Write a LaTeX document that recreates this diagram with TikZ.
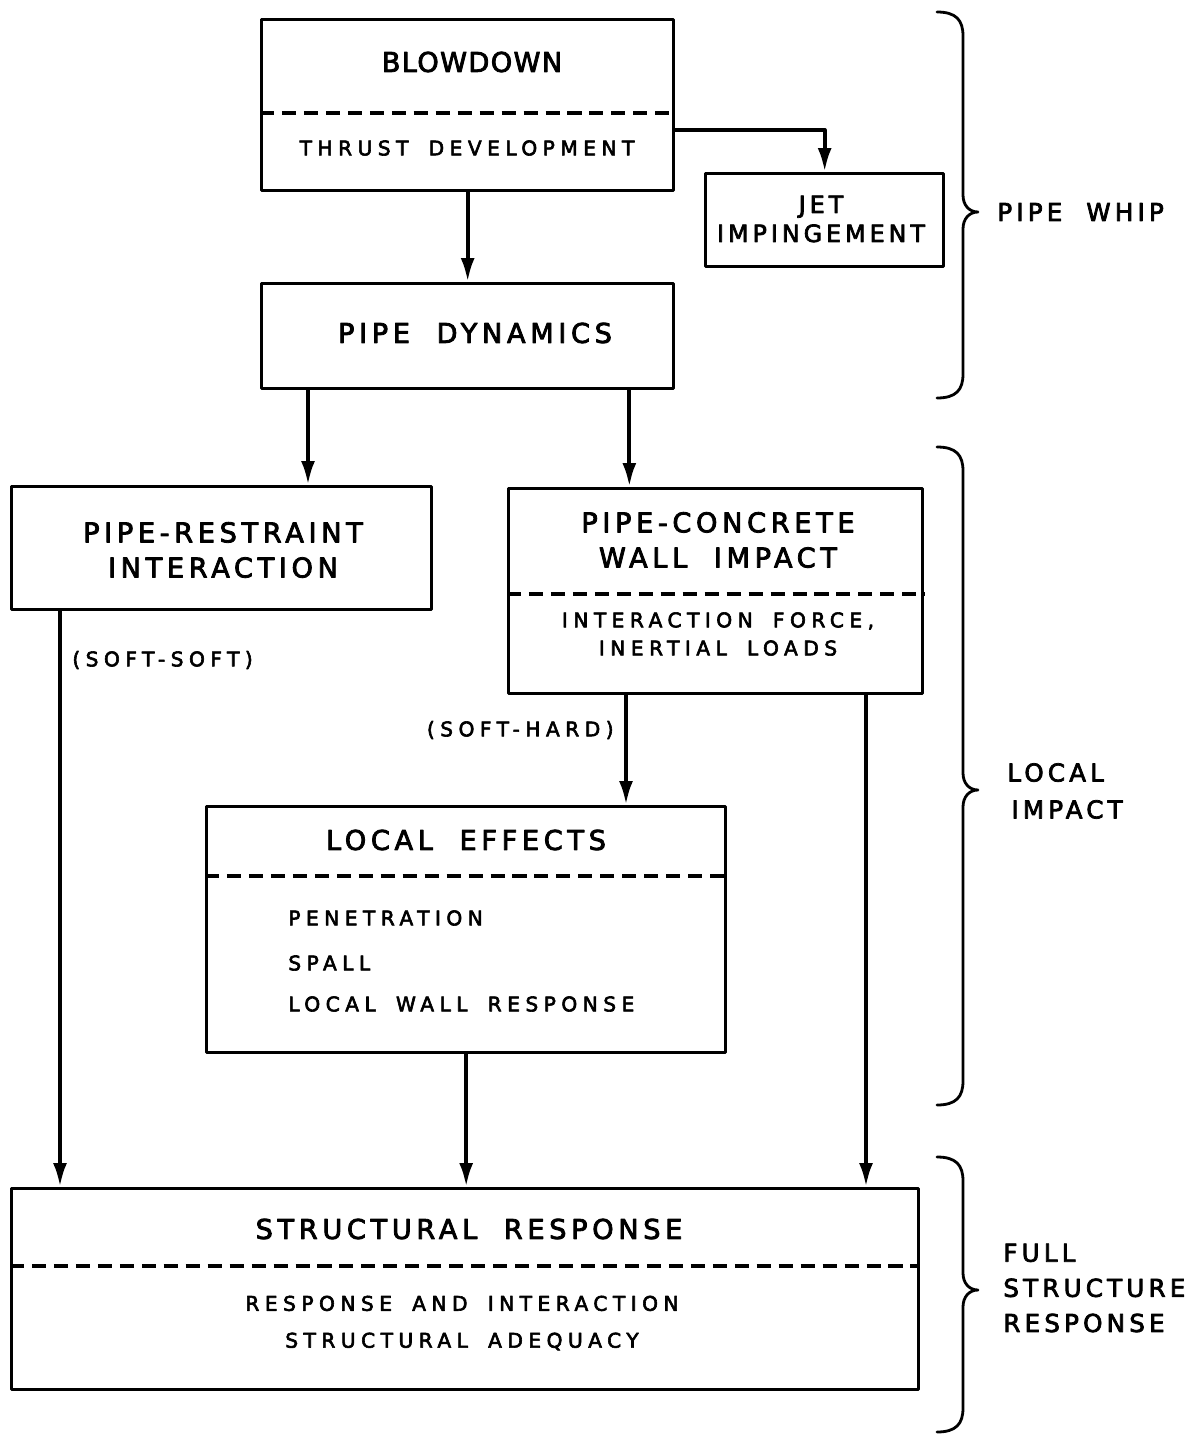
\documentclass[tikz,border=0pt]{standalone}
\usepackage{fontspec}
\usetikzlibrary{arrows.meta}
\newfontfamily\letterbig[LetterSpace=17,WordSpace=2,FakeBold=3]{DejaVu Sans}
\newfontfamily\lettersm[LetterSpace=27,WordSpace=1.7,FakeBold=3]{DejaVu Sans}

\begin{document}
\begin{tikzpicture}[x=0.02cm,y=-0.02cm,line cap=round,line join=round,
  box/.style={draw,line width=1.9pt,anchor=north west,inner sep=0pt},
  big/.style={font=\letterbig\fontsize{15.5}{20}\selectfont,align=center,inner sep=0pt},
  side/.style={font=\letterbig\fontsize{14}{20}\selectfont,anchor=west,align=left,inner sep=0pt},
  small/.style={font=\lettersm\fontsize{11.5}{16}\selectfont,align=center,inner sep=0pt},
  split/.style={line width=1.9pt,dash pattern=on 8pt off 4.5pt,line cap=butt},
  arr/.style={line width=2.3pt,line cap=butt,-{Latex[length=0.48cm,width=0.28cm]}},
  brace/.style={line width=1.6pt}]
  \def\u{0.02cm}
  \useasboundingbox (0,0) rectangle (1188,1437);
  \node[box,minimum width=412*\u,minimum height=171*\u] (blow) at (260,18) {};
  \node[box,minimum width=238*\u,minimum height=93*\u] (jet) at (704,172) {};
  \node[box,minimum width=412*\u,minimum height=105*\u] (dyn) at (260,282) {};
  \node[box,minimum width=420*\u,minimum height=123*\u] (restr) at (10,485) {};
  \node[box,minimum width=414*\u,minimum height=205*\u] (conc) at (507,487) {};
  \node[box,minimum width=519*\u,minimum height=246*\u] (loc) at (205,805) {};
  \node[box,minimum width=907*\u,minimum height=201*\u] (struct) at (10,1187) {};
  \draw[split] ([yshift=-95*\u]blow.north west) -- ([yshift=-95*\u]blow.north east);
  \draw[split] ([yshift=-107*\u]conc.north west) -- ([yshift=-107*\u]conc.north east);
  \draw[split] ([yshift=-71*\u]loc.north west) -- ([yshift=-71*\u]loc.north east);
  \draw[split] ([yshift=-79*\u]struct.north west) -- ([yshift=-79*\u]struct.north east);
  \node[big] (t-blow) at (472,62) {\addfontfeature{LetterSpace=5}BLOWDOWN};
  \node[small] (t-thrust) at (467,148) {THRUST DEVELOPMENT};
  \node[big,font=\letterbig\fontsize{13.5}{16.5}\selectfont] (t-jet) at (821,219) {JET\\IMPINGEMENT};
  \node[big] (t-dyn) at (475,333) {PIPE DYNAMICS};
  \node[big] (t-restr) at (223,550) {PIPE-RESTRAINT\\INTERACTION};
  \node[big] (t-conc) at (718,540) {PIPE-CONCRETE\\WALL IMPACT};
  \node[small] (t-force) at (718,634) {INTERACTION FORCE,\\INERTIAL LOADS};
  \node[small,anchor=west] (t-ss) at (72,660) {(SOFT-SOFT)};
  \node[small,anchor=east] (t-sh) at (614,730) {(SOFT-HARD)};
  \node[big] (t-loc) at (466,840) {LOCAL EFFECTS};
  \node[small,anchor=west] (t-pen) at (288,918) {PENETRATION};
  \node[small,anchor=west] (t-spall) at (288,963) {SPALL};
  \node[small,anchor=west] (t-wall) at (288,1004) {LOCAL WALL RESPONSE};
  \node[big] (t-struct) at (469,1229) {STRUCTURAL RESPONSE};
  \node[small,font=\lettersm\fontsize{11.5}{21}\selectfont] (t-adeq) at (462,1323) {RESPONSE AND INTERACTION\\STRUCTURAL ADEQUACY};
  \node[side] (t-whip) at (997,212) {PIPE WHIP};
  \node[side,font=\letterbig\fontsize{14}{21}\selectfont] (t-impact) at (1007,791) {LOCAL\\\,IMPACT};
  \node[side] (t-full) at (1003,1288) {FULL\\STRUCTURE\\RESPONSE};
  \coordinate (d1) at ([xshift=48*\u]dyn.south west);
  \coordinate (d2) at ([xshift=-46*\u]dyn.south east);
  \coordinate (r1) at ([xshift=50*\u]restr.south west);
  \coordinate (c1) at ([xshift=119*\u]conc.south west);
  \coordinate (c2) at ([xshift=359*\u]conc.south west);
  \draw[arr] ([yshift=-112*\u]blow.north east) -| (jet.north);
  \draw[arr] (blow.south) -- (dyn.north);
  \draw[arr] (d1) -- (d1 |- restr.north);
  \draw[arr] (d2) -- (d2 |- conc.north);
  \draw[arr] (r1) -- (r1 |- struct.north);
  \draw[arr] (c1) -- (c1 |- loc.north);
  \draw[arr] (c2) -- (c2 |- struct.north);
  \draw[arr] (loc.south) -- (loc.south |- struct.north);
  \foreach \yt/\ym/\yb in {12/212/398,447/790/1105,1157/1290/1432} {
    \draw[brace] (937,\yt) .. controls (956,\yt) and (963,\yt+8) .. (963,\yt+24)
      -- (963,\ym-17) .. controls (963,\ym-7) and (969,\ym) .. (978,\ym)
      .. controls (969,\ym) and (963,\ym+7) .. (963,\ym+17)
      -- (963,\yb-24) .. controls (963,\yb-8) and (956,\yb) .. (937,\yb);
  }
\end{tikzpicture}
\end{document}
